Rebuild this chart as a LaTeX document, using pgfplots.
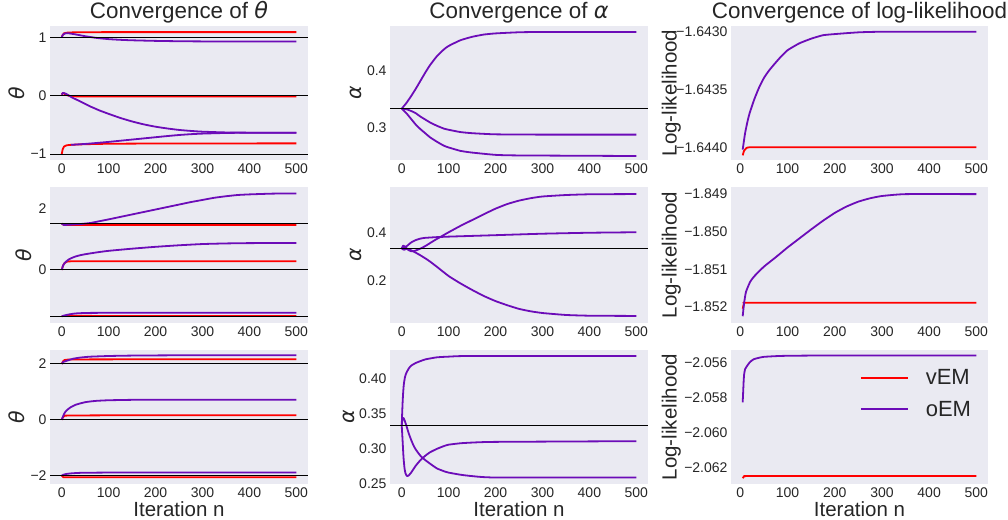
\documentclass[border=0pt]{standalone}
\usepackage{fontspec}
\setmainfont{Liberation Sans}
\newfontfamily\djv{DejaVu Sans}
\usepackage{pgfplots}
\pgfplotsset{compat=1.18}
\definecolor{bgc}{HTML}{EAEAF2}
\definecolor{txt}{HTML}{262626}
\definecolor{vem}{HTML}{FF0000}
\definecolor{oem}{HTML}{6C0CB8}
\newcommand{\thet}{{\djv\itshape θ}}
\newcommand{\alp}{{\djv\itshape α}}
\pgfplotsset{
  panel/.style={
    scale only axis, anchor=south west,
    axis background/.style={fill=bgc},
    axis line style={draw=none}, tick style={draw=none}, major tick length=0pt,
    xtick={0,100,200,300,400,500}, xticklabels={0,100,200,300,400,500},
    tick label style={font=\fontsize{14}{16}\selectfont, text=txt},
    label style={font=\fontsize{20.5}{24}\selectfont, text=txt, inner sep=0pt},
    title style={font=\fontsize{22.4}{26}\selectfont, text=txt, at={(0.5,1)}, anchor=base, yshift=1.7pt},
    xlabel style={at={(rel axis cs:0.5,-0.2425)}, anchor=base},
    every axis plot/.append style={line width=1.8pt, line join=round, smooth, tension=0.3},
    clip=true,
  },
  c1/.style={panel, width=258pt, xmin=-25, xmax=525},
  c2/.style={panel, width=258pt, xmin=-25, xmax=525},
  c3/.style={panel, width=257pt, xmin=-19.75, xmax=524.75},
  truth/.style={black, line width=1pt, forget plot, sharp plot},
}
\begin{document}
\begin{tikzpicture}
\useasboundingbox (0,0) rectangle (1008pt,519pt);

% ---------------- Row 1 ----------------
\begin{axis}[c1, at={(50pt,359pt)}, height=134pt, ymin=-1.10, ymax=1.195,
  ytick={-1,0,1}, yticklabels={−1,0,1},
  title={Convergence of \thet}, ylabel={\thet},
  ylabel style={at={(rel axis cs:-0.0969,0.5)}, anchor=south}]
\addplot[vem] coordinates {(0,1.0) (2,1.04) (5,1.07) (10,1.08) (20,1.085) (50,1.088) (100,1.09) (200,1.09) (500,1.09)};
\addplot[oem] coordinates {(0,1.0) (3,1.05) (8,1.07) (15,1.07) (30,1.05) (50,1.02) (75,0.99) (100,0.97) (125,0.958) (150,0.95) (200,0.94) (250,0.934) (300,0.931) (400,0.93) (500,0.93)};
\addplot[vem] coordinates {(0,0.02) (3,0.05) (8,0.02) (15,0.0) (30,-0.01) (100,-0.01) (500,-0.01)};
\addplot[oem] coordinates {(0,0.02) (3,0.05) (10,0.03) (20,-0.02) (30,-0.06) (40,-0.1) (50,-0.14) (60,-0.18) (70,-0.215) (80,-0.25) (90,-0.28) (100,-0.31) (125,-0.38) (150,-0.44) (175,-0.49) (200,-0.53) (225,-0.56) (250,-0.585) (275,-0.602) (300,-0.615) (350,-0.628) (400,-0.632) (500,-0.632)};
\addplot[vem] coordinates {(0,-1.0) (2,-0.92) (5,-0.87) (10,-0.85) (20,-0.84) (50,-0.83) (100,-0.822) (200,-0.818) (500,-0.815)};
\addplot[oem] coordinates {(20,-0.84) (50,-0.825) (75,-0.808) (100,-0.79) (125,-0.77) (150,-0.75) (175,-0.73) (200,-0.71) (225,-0.69) (250,-0.672) (275,-0.658) (300,-0.648) (350,-0.637) (400,-0.633) (500,-0.632)};
\addplot[truth] coordinates {(-25,1) (525,1)};
\addplot[truth] coordinates {(-25,0) (525,0)};
\addplot[truth] coordinates {(-25,-1) (525,-1)};
\end{axis}

\begin{axis}[c2, at={(390pt,359pt)}, height=134pt, ymin=0.243, ymax=0.478,
  ytick={0.3,0.4}, yticklabels={0.3,0.4},
  title={Convergence of \alp}, ylabel={\alp},
  ylabel style={at={(rel axis cs:-0.1097,0.5)}, anchor=south}]
\addplot[oem] coordinates {(0,0.333) (5,0.338) (10,0.343) (20,0.355) (30,0.368) (40,0.382) (50,0.396) (60,0.409) (75,0.425) (90,0.437) (100,0.443) (125,0.453) (150,0.459) (175,0.463) (200,0.465) (250,0.467) (300,0.4675) (500,0.4675)};
\addplot[oem] coordinates {(0,0.333) (10,0.332) (20,0.329) (30,0.325) (40,0.319) (50,0.314) (60,0.309) (75,0.303) (90,0.298) (100,0.296) (125,0.292) (150,0.29) (200,0.288) (300,0.2875) (500,0.2875)};
\addplot[oem] coordinates {(0,0.333) (5,0.329) (10,0.325) (20,0.315) (30,0.305) (40,0.297) (50,0.29) (60,0.283) (75,0.275) (90,0.268) (100,0.265) (125,0.259) (150,0.256) (200,0.252) (250,0.251) (500,0.25)};
\addplot[truth] coordinates {(-25,0.3333) (525,0.3333)};
\end{axis}

\begin{axis}[c3, at={(731pt,359pt)}, height=134pt, ymin=-1.64411, ymax=-1.64295,
  ytick={-1.644,-1.6435,-1.643}, yticklabels={−1.6440,−1.6435,−1.6430},
  title={Convergence of log-likelihood}, ylabel={Log-likelihood},
  ylabel style={at={(rel axis cs:-0.1946,0.5)}, anchor=south}]
\addplot[vem] coordinates {(5,-1.64407) (8,-1.64403) (12,-1.64401) (20,-1.644) (100,-1.644) (500,-1.644)};
\addplot[oem] coordinates {(5,-1.64402) (10,-1.64388) (15,-1.64378) (20,-1.6437) (30,-1.64358) (40,-1.64348) (50,-1.6434) (60,-1.64334) (70,-1.64329) (85,-1.64322) (100,-1.64316) (125,-1.6431) (150,-1.64306) (175,-1.64303) (200,-1.64302) (250,-1.643005) (300,-1.643) (500,-1.643)};
\end{axis}

% ---------------- Row 2 ----------------
\begin{axis}[c1, at={(50pt,196pt)}, height=136pt, ymin=-1.72, ymax=2.69,
  ytick={0,2}, yticklabels={0,2}, ylabel={\thet},
  ylabel style={at={(rel axis cs:-0.0709,0.5)}, anchor=south}]
\addplot[vem] coordinates {(0,1.5) (5,1.46) (10,1.455) (100,1.455) (500,1.455)};
\addplot[oem] coordinates {(0,1.5) (5,1.46) (20,1.47) (40,1.49) (60,1.52) (80,1.58) (100,1.64) (125,1.72) (150,1.8) (175,1.88) (200,1.96) (225,2.04) (250,2.12) (275,2.2) (300,2.27) (325,2.34) (350,2.39) (375,2.43) (400,2.45) (450,2.475) (500,2.48)};
\addplot[vem] coordinates {(0,0) (3,0.15) (6,0.22) (10,0.26) (20,0.28) (100,0.28) (500,0.28)};
\addplot[oem] coordinates {(0,0) (3,0.15) (6,0.22) (10,0.28) (15,0.34) (20,0.38) (30,0.44) (40,0.48) (50,0.51) (75,0.57) (100,0.62) (150,0.69) (200,0.75) (250,0.8) (300,0.84) (350,0.86) (400,0.87) (500,0.875)};
\addplot[vem] coordinates {(0,-1.5) (10,-1.49) (100,-1.49) (500,-1.49)};
\addplot[oem] coordinates {(0,-1.5) (10,-1.46) (20,-1.43) (30,-1.41) (50,-1.395) (100,-1.39) (500,-1.385)};
\addplot[truth] coordinates {(-25,1.5) (525,1.5)};
\addplot[truth] coordinates {(-25,0) (525,0)};
\addplot[truth] coordinates {(-25,-1.5) (525,-1.5)};
\end{axis}

\begin{axis}[c2, at={(390pt,196pt)}, height=136pt, ymin=0.027, ymax=0.586,
  ytick={0.2,0.4}, yticklabels={0.2,0.4}, ylabel={\alp},
  ylabel style={at={(rel axis cs:-0.1097,0.5)}, anchor=south}]
\addplot[oem] coordinates {(0,0.333) (5,0.34) (10,0.335) (15,0.326) (20,0.322) (25,0.322) (30,0.325) (40,0.333) (50,0.343) (60,0.355) (70,0.367) (80,0.378) (90,0.389) (100,0.40) (125,0.426) (150,0.45) (175,0.474) (200,0.497) (225,0.516) (250,0.53) (275,0.54) (300,0.547) (350,0.553) (400,0.556) (500,0.557)};
\addplot[oem] coordinates {(0,0.333) (3,0.345) (8,0.34) (12,0.345) (20,0.358) (30,0.368) (40,0.374) (50,0.377) (75,0.38) (100,0.382) (150,0.385) (200,0.388) (300,0.394) (400,0.398) (500,0.40)};
\addplot[oem] coordinates {(0,0.333) (5,0.328) (10,0.332) (15,0.33) (20,0.326) (30,0.316) (40,0.305) (50,0.293) (60,0.28) (75,0.258) (100,0.22) (125,0.19) (150,0.163) (175,0.138) (200,0.117) (225,0.1) (250,0.085) (275,0.075) (300,0.068) (350,0.06) (400,0.057) (500,0.056)};
\addplot[truth] coordinates {(-25,0.3333) (525,0.3333)};
\end{axis}

\begin{axis}[c3, at={(731pt,196pt)}, height=136pt, ymin=-1.85243, ymax=-1.84881,
  ytick={-1.852,-1.851,-1.85,-1.849}, yticklabels={−1.852,−1.851,−1.850,−1.849},
  ylabel={Log-likelihood},
  ylabel style={at={(rel axis cs:-0.1946,0.5)}, anchor=south}]
\addplot[vem] coordinates {(5,-1.85205) (8,-1.8519) (10,-1.85189) (100,-1.85189) (500,-1.85189)};
\addplot[oem] coordinates {(5,-1.85225) (8,-1.8519) (12,-1.8516) (21,-1.85133) (30,-1.85118) (50,-1.85093) (75,-1.85068) (100,-1.85042) (125,-1.85018) (150,-1.84994) (175,-1.84971) (200,-1.8495) (225,-1.84933) (250,-1.8492) (275,-1.84911) (300,-1.84905) (350,-1.849) (500,-1.849)};
\end{axis}

% ---------------- Row 3 ----------------
\begin{axis}[c1, at={(50pt,35pt)}, height=134pt, ymin=-2.3, ymax=2.5,
  ytick={-2,0,2}, yticklabels={−2,0,2}, ylabel={\thet}, xlabel={Iteration n},
  ylabel style={at={(rel axis cs:-0.0969,0.5)}, anchor=south}]
\addplot[vem] coordinates {(0,2.0) (3,2.1) (6,2.14) (10,2.15) (20,2.16) (100,2.165) (500,2.17)};
\addplot[oem] coordinates {(0,2.0) (3,2.07) (8,2.1) (15,2.14) (25,2.19) (40,2.23) (60,2.26) (100,2.285) (150,2.3) (250,2.31) (500,2.31)};
\addplot[vem] coordinates {(0,0) (3,0.1) (6,0.14) (10,0.15) (100,0.16) (500,0.16)};
\addplot[oem] coordinates {(0,0) (2,0.09) (4,0.17) (6,0.24) (8,0.29) (10,0.33) (15,0.4) (20,0.46) (25,0.5) (30,0.54) (40,0.59) (50,0.63) (60,0.655) (75,0.68) (100,0.70) (150,0.715) (200,0.72) (500,0.72)};
\addplot[vem] coordinates {(0,-2.0) (3,-2.05) (10,-2.06) (100,-2.06) (500,-2.06)};
\addplot[oem] coordinates {(0,-2.0) (3,-1.97) (10,-1.94) (20,-1.92) (40,-1.9) (100,-1.89) (200,-1.887) (500,-1.885)};
\addplot[truth] coordinates {(-25,2) (525,2)};
\addplot[truth] coordinates {(-25,0) (525,0)};
\addplot[truth] coordinates {(-25,-2) (525,-2)};
\end{axis}

\begin{axis}[c2, at={(390pt,35pt)}, height=134pt, ymin=0.2497, ymax=0.4415,
  ytick={0.25,0.3,0.35,0.4}, yticklabels={0.25,0.30,0.35,0.40}, ylabel={\alp}, xlabel={Iteration n},
  ylabel style={at={(rel axis cs:-0.1357,0.5)}, anchor=south}]
\addplot[oem] coordinates {(0,0.333) (1,0.352) (2,0.368) (3,0.38) (4,0.389) (5,0.395) (7,0.403) (10,0.409) (15,0.415) (20,0.419) (30,0.423) (50,0.428) (75,0.431) (100,0.432) (150,0.433) (500,0.433)};
\addplot[oem] coordinates {(0,0.333) (1,0.322) (2,0.31) (3,0.297) (4,0.286) (6,0.272) (8,0.265) (10,0.262) (12,0.261) (15,0.262) (20,0.266) (25,0.271) (30,0.276) (40,0.284) (50,0.29) (60,0.295) (75,0.30) (90,0.304) (100,0.306) (125,0.308) (150,0.309) (200,0.31) (500,0.311)};
\addplot[oem] coordinates {(0,0.333) (1,0.34) (2,0.343) (3,0.344) (4,0.344) (6,0.341) (8,0.337) (10,0.333) (15,0.322) (20,0.313) (25,0.305) (30,0.299) (40,0.29) (50,0.284) (60,0.279) (75,0.272) (90,0.268) (100,0.266) (125,0.263) (150,0.261) (200,0.259) (500,0.259)};
\addplot[truth] coordinates {(-25,0.3333) (525,0.3333)};
\end{axis}

\begin{axis}[c3, at={(731pt,35pt)}, height=134pt, ymin=-2.06293, ymax=-2.0553,
  ytick={-2.062,-2.06,-2.058,-2.056}, yticklabels={−2.062,−2.060,−2.058,−2.056},
  ylabel={Log-likelihood}, xlabel={Iteration n},
  ylabel style={at={(rel axis cs:-0.1946,0.5)}, anchor=south},
  legend style={at={(rel axis cs:0.502,0.853)}, anchor=north west, draw=none, fill=none,
    font=\fontsize{22}{26}\selectfont, text=txt, inner sep=0pt, outer sep=0pt,
    row sep=14.6pt, column sep=17pt, nodes={inner sep=0pt}},
  legend cell align=left,
  legend image code/.code={\draw[#1, line width=1.8pt, sharp plot] (0pt,0pt) -- (47pt,0pt);}]
\addplot[vem] coordinates {(5,-2.0626) (8,-2.0625) (12,-2.06248) (100,-2.06248) (500,-2.06248)};
\addlegendentry{vEM}
\addplot[oem] coordinates {(5,-2.05828) (6,-2.0577) (7,-2.0571) (8,-2.0567) (10,-2.0564) (14,-2.05622) (20,-2.056) (28,-2.05583) (40,-2.05574) (50,-2.05569) (75,-2.05565) (100,-2.05563) (200,-2.05561) (500,-2.05561)};
\addlegendentry{oEM}
\end{axis}
\end{tikzpicture}
\end{document}
